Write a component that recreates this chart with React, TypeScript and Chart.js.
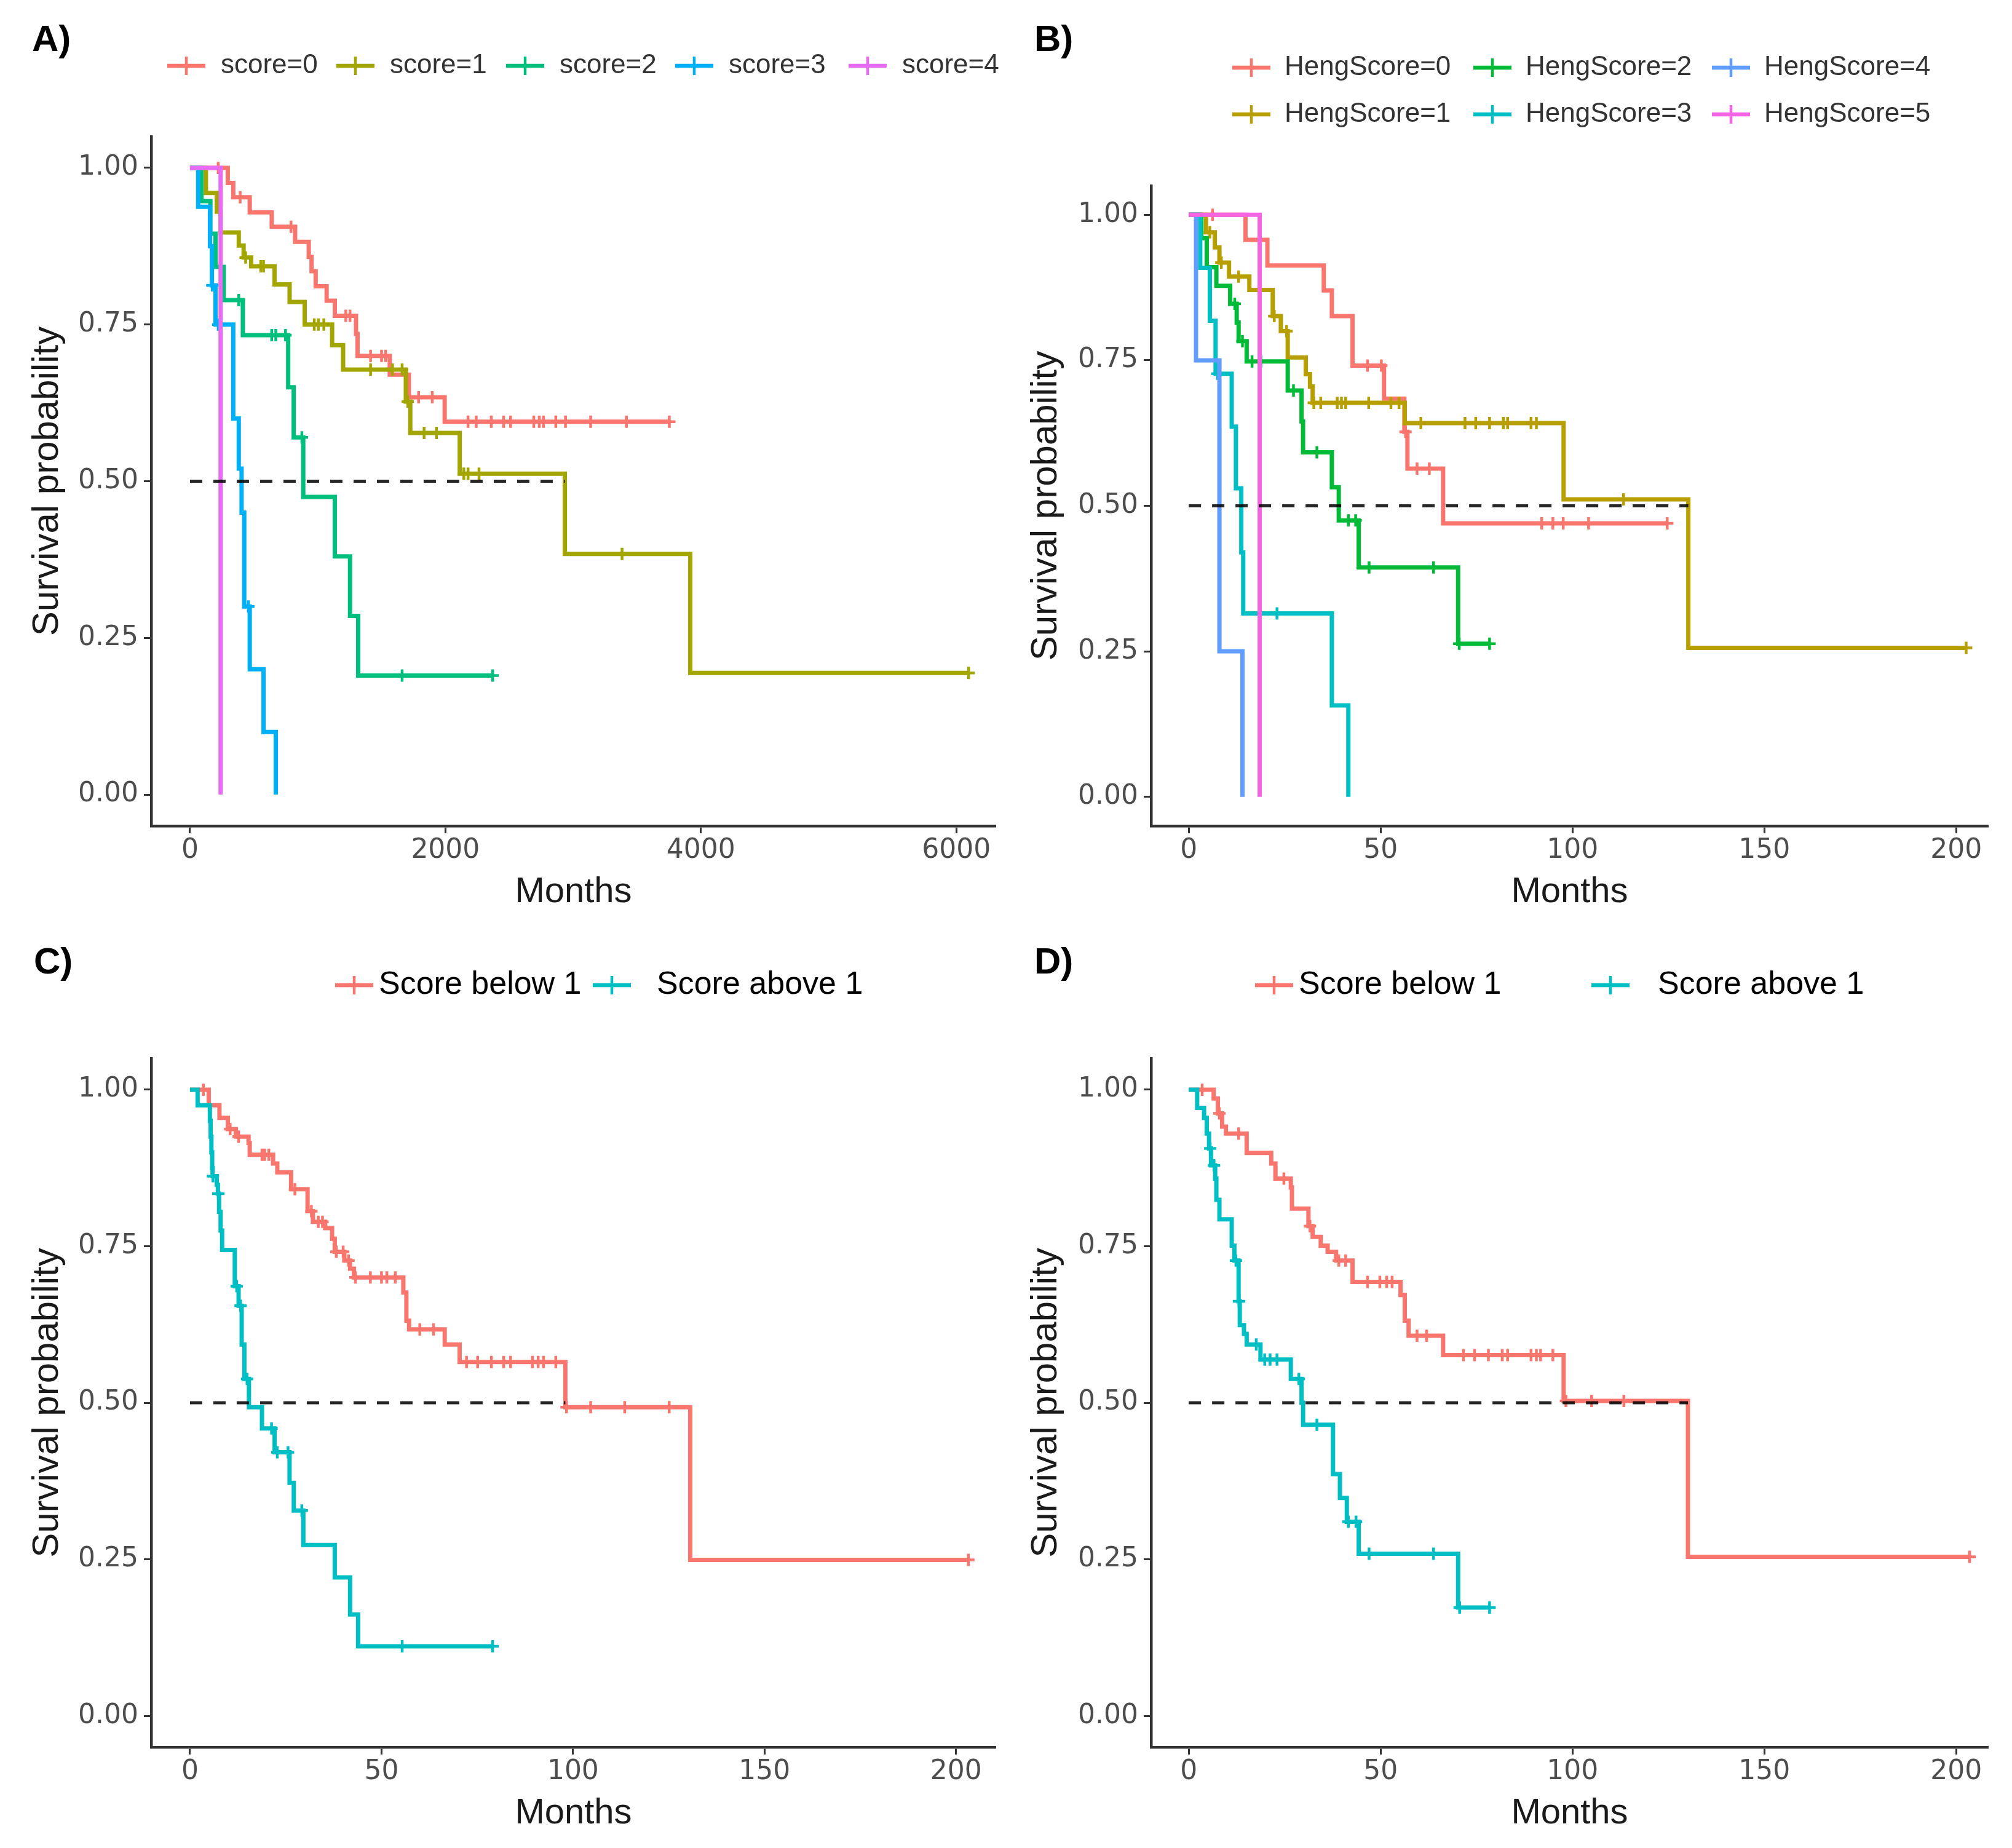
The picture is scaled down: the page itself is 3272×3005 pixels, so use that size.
import React, { useEffect, useRef } from "react";
import { Chart, registerables } from "chart.js";

Chart.register(...registerables);

const SANS = '"Liberation Sans", Arial, Helvetica, sans-serif';
const TICKFONT = '"DejaVu Sans", Verdana, sans-serif';

// ---------------- shared ticks ----------------
const Y_TICKS = [0, 0.25, 0.5, 0.75, 1];
const A_X_TICKS = [0, 2000, 4000, 6000];
const MONTH_TICKS = [0, 50, 100, 150, 200];

// ---------------- Panel A (score) ----------------
const A_labels = ["score=0", "score=1", "score=2", "score=3", "score=4"];
const A_colors = ["#F8766D", "#A3A500", "#00BF7D", "#00B0F6", "#E76BF3"];

const A_s0_time = [296, 339, 468, 640, 823, 930, 952, 984, 1070, 1134, 1300, 1312, 1564, 1714, 1994];
const A_s0_surv = [0.976, 0.953, 0.929, 0.906, 0.882, 0.858, 0.835, 0.811, 0.788, 0.764, 0.735, 0.7, 0.67, 0.634, 0.595];
const A_s0_cens = [221, 393, 791, 1220, 1253, 1414, 1500, 1532, 1790, 1897, 2177, 2241, 2359, 2456, 2510, 2692, 2735, 2768, 2864, 2940, 3137, 3417, 3753];

const A_s1_time = [125, 210, 240, 382, 420, 479, 662, 780, 898, 1113, 1199, 1690, 1725, 2112, 2935, 3917];
const A_s1_surv = [0.96, 0.93, 0.897, 0.876, 0.857, 0.843, 0.814, 0.786, 0.75, 0.717, 0.678, 0.627, 0.577, 0.512, 0.384, 0.194];
const A_s1_cens = [436, 554, 576, 973, 1005, 1048, 1414, 1586, 1661, 1705, 1833, 1930, 2144, 2177, 2263, 3383, 6096];

const A_s2_time = [90, 160, 200, 264, 414, 769, 812, 887, 1134, 1253, 1317];
const A_s2_surv = [0.947, 0.895, 0.842, 0.789, 0.733, 0.65, 0.57, 0.475, 0.38, 0.285, 0.19];
const A_s2_cens = [382, 640, 672, 748, 876, 1661, 2370];

const A_s3_time = [64, 157, 172, 200, 339, 382, 404, 425, 468, 576, 672];
const A_s3_surv = [0.938, 0.875, 0.8125, 0.75, 0.6, 0.52, 0.45, 0.3, 0.2, 0.1, 0];
const A_s3_cens = [175, 221, 457];

const A_s4_time = [240];
const A_s4_surv = [0];
const A_s4_cens: number[] = [];

// ---------------- Panel B (HengScore) ----------------
const B_labels = ["HengScore=0", "HengScore=1", "HengScore=2", "HengScore=3", "HengScore=4", "HengScore=5"];
const B_colors = ["#F8766D", "#B79F00", "#00BA38", "#00BFC4", "#619CFF", "#F564E3"];

const B_h0_time = [14.8, 20.5, 35.2, 37.3, 42.7, 50.9, 56.2, 57.0, 66.3];
const B_h0_surv = [0.957, 0.913, 0.87, 0.826, 0.741, 0.684, 0.627, 0.564, 0.47];
const B_h0_cens = [6.2, 46.6, 50.2, 56.5, 59.5, 62.7, 92.0, 94.9, 97.6, 104.2, 124.7];

const B_h1_time = [4.5, 6.8, 8.0, 10.5, 15.8, 21.9, 24.0, 25.8, 30.5, 31.6, 32.3, 56.3, 97.7, 130.2];
const B_h1_surv = [0.97, 0.944, 0.918, 0.894, 0.871, 0.826, 0.8, 0.755, 0.726, 0.705, 0.677, 0.642, 0.511, 0.256];
const B_h1_cens = [5.5, 8.5, 13.0, 22.3, 25.5, 32.6, 34.4, 38.7, 39.8, 40.9, 46.9, 52.7, 54.8, 60.5, 72.0, 74.8, 78.4, 82.0, 83.1, 89.2, 90.6, 113.3, 202.6];

const B_h2_time = [3.3, 4.7, 7.2, 10.8, 12.5, 13.0, 15.1, 25.8, 29.4, 29.8, 37.3, 39.1, 44.3, 70.2];
const B_h2_surv = [0.96, 0.91, 0.878, 0.847, 0.815, 0.783, 0.748, 0.698, 0.645, 0.592, 0.532, 0.475, 0.394, 0.263];
const B_h2_cens = [12.0, 14.0, 16.5, 18.8, 27.3, 33.4, 41.6, 43.5, 47.0, 63.8, 70.5, 78.4];

const B_h3_time = [3.0, 5.5, 7.0, 11.2, 12.3, 13.7, 14.2, 37.3, 41.6];
const B_h3_surv = [0.909, 0.818, 0.727, 0.636, 0.53, 0.42, 0.315, 0.157, 0];
const B_h3_cens = [7.5, 23.0];

const B_h4_time = [1.9, 8.0, 14.0];
const B_h4_surv = [0.75, 0.25, 0];
const B_h4_cens: number[] = [];

const B_h5_time = [18.5];
const B_h5_surv = [0];
const B_h5_cens: number[] = [];

// ---------------- Panels C / D (below / above 1) ----------------
const CD_labels = ["Score below 1", "Score above 1"];
const CD_colors = ["#F8766D", "#00BFC4"];

const C_lo_time = [4.9, 7.7, 9.9, 12.0, 15.3, 15.6, 21.7, 22.8, 26.4, 30.7, 32.1, 35.3, 37.1, 37.8, 40.3, 41.8, 42.8, 55.7, 56.5, 57.2, 66.5, 70.4, 98.0, 130.6];
const C_lo_surv = [0.975, 0.955, 0.937, 0.925, 0.915, 0.896, 0.882, 0.868, 0.841, 0.806, 0.789, 0.779, 0.762, 0.741, 0.727, 0.714, 0.7, 0.676, 0.631, 0.617, 0.593, 0.565, 0.493, 0.249];
const C_lo_cens = [3.5, 10.5, 12.7, 18.8, 19.5, 20.6, 27.4, 31.7, 33.5, 34.6, 38.2, 40.0, 41.4, 43.2, 47.1, 50.0, 51.4, 53.6, 60.0, 63.6, 72.2, 75.1, 78.7, 81.9, 83.7, 89.4, 90.9, 92.3, 95.5, 98.3, 104.6, 113.5, 125.1, 203.2];

const C_hi_time = [2.0, 5.2, 5.4, 5.6, 5.8, 5.9, 7.0, 7.3, 7.6, 8.0, 8.4, 11.7, 12.7, 13.5, 14.2, 15.4, 18.8, 22.1, 26.0, 27.1, 29.6, 37.8, 41.8, 43.9];
const C_hi_surv = [0.975, 0.95, 0.925, 0.9, 0.875, 0.862, 0.848, 0.834, 0.805, 0.775, 0.744, 0.686, 0.655, 0.593, 0.538, 0.493, 0.459, 0.421, 0.372, 0.328, 0.273, 0.221, 0.162, 0.111];
const C_hi_cens = [6.0, 7.4, 12.2, 13.2, 14.9, 21.3, 22.8, 25.6, 29.2, 55.4, 79.0];

const D_lo_time = [6.5, 7.6, 8.7, 9.7, 15.1, 21.5, 22.6, 26.6, 26.9, 31.2, 32.3, 34.4, 36.2, 38.4, 42.7, 55.2, 56.3, 57.3, 66.3, 97.7, 130.1];
const D_lo_surv = [0.986, 0.962, 0.941, 0.93, 0.899, 0.882, 0.858, 0.844, 0.81, 0.782, 0.765, 0.751, 0.741, 0.727, 0.693, 0.672, 0.631, 0.607, 0.576, 0.503, 0.254];
const D_lo_cens = [3.5, 8.0, 13.0, 24.8, 31.6, 39.1, 40.9, 46.6, 49.8, 51.6, 53.0, 59.5, 62.0, 71.6, 74.5, 78.1, 81.7, 83.1, 89.2, 90.6, 91.7, 94.9, 98.3, 105.0, 113.4, 203.5];

const D_hi_time = [2.2, 4.0, 4.7, 5.3, 5.8, 6.9, 7.2, 8.0, 11.2, 11.9, 13.0, 13.3, 14.4, 15.1, 18.7, 26.6, 29.4, 29.8, 37.6, 39.4, 41.2, 44.3, 70.2];
const D_hi_surv = [0.971, 0.955, 0.93, 0.906, 0.879, 0.858, 0.824, 0.793, 0.751, 0.727, 0.662, 0.624, 0.61, 0.593, 0.569, 0.538, 0.5, 0.465, 0.386, 0.348, 0.31, 0.259, 0.173];
const D_hi_cens = [5.6, 6.6, 12.3, 13.1, 17.6, 19.8, 21.2, 23.0, 28.7, 33.4, 41.6, 43.6, 47.0, 63.8, 70.6, 78.4];

// ---------------- helpers ----------------
type Curve = { label: string; color: string; t: number[]; s: number[]; c: number[] };

function survAt(t: number[], s: number[], x: number) {
  let v = 1;
  for (let i = 0; i < t.length; i++) if (t[i] <= x) v = s[i];
  return v;
}

function curvePoints(cv: Curve) {
  const pts: { x: number; y: number; c: boolean }[] = [{ x: 0, y: 1, c: false }];
  cv.t.forEach((x, i) => pts.push({ x, y: cv.s[i], c: false }));
  cv.c.forEach((x) => pts.push({ x, y: survAt(cv.t, cv.s, x), c: true }));
  pts.sort((a, b) => a.x - b.x || (a.c ? 1 : 0) - (b.c ? 1 : 0));
  return pts;
}

function medianTime(cv: Curve) {
  for (let i = 0; i < cv.t.length; i++) if (cv.s[i] <= 0.5) return cv.t[i];
  return null;
}

function mk(labels: string[], colors: string[], series: [number[], number[], number[]][]): Curve[] {
  return series.map(([t, s, c], i) => ({ label: labels[i], color: colors[i], t, s, c }));
}

const A_curves = mk(A_labels, A_colors, [
  [A_s0_time, A_s0_surv, A_s0_cens],
  [A_s1_time, A_s1_surv, A_s1_cens],
  [A_s2_time, A_s2_surv, A_s2_cens],
  [A_s3_time, A_s3_surv, A_s3_cens],
  [A_s4_time, A_s4_surv, A_s4_cens],
]);
const B_curves = mk(B_labels, B_colors, [
  [B_h0_time, B_h0_surv, B_h0_cens],
  [B_h1_time, B_h1_surv, B_h1_cens],
  [B_h2_time, B_h2_surv, B_h2_cens],
  [B_h3_time, B_h3_surv, B_h3_cens],
  [B_h4_time, B_h4_surv, B_h4_cens],
  [B_h5_time, B_h5_surv, B_h5_cens],
]);
const C_curves = mk(CD_labels, CD_colors, [
  [C_lo_time, C_lo_surv, C_lo_cens],
  [C_hi_time, C_hi_surv, C_hi_cens],
]);
const D_curves = mk(CD_labels, CD_colors, [
  [D_lo_time, D_lo_surv, D_lo_cens],
  [D_hi_time, D_hi_surv, D_hi_cens],
]);

type LegendItem = { kx: number; ky: number; tx: number };
type PanelCfg = {
  key: string;
  left: number; top: number; width: number; height: number;
  area: { l: number; r: number; t: number; b: number };
  xMin: number; xMax: number; xTicks: number[];
  curves: Curve[];
  label: string; labelX: number; labelY: number;
  yTitleCenter: number; xTitleCenter: number;
  legendFont: string; legendColor: string; legend: LegendItem[];
};

const PANELS: PanelCfg[] = [
  {
    key: "A", left: 0, top: 0, width: 1636, height: 1500,
    area: { l: 246, r: 1619, t: 222, b: 1343 },
    xMin: -303, xMax: 6307, xTicks: A_X_TICKS, curves: A_curves,
    label: "A)", labelX: 52, labelY: 83, yTitleCenter: 77, xTitleCenter: 1451,
    legendFont: `44px ${SANS}`, legendColor: "#333",
    legend: [
      { kx: 303, ky: 107, tx: 359 },
      { kx: 578, ky: 107, tx: 634 },
      { kx: 854, ky: 107, tx: 910 },
      { kx: 1129, ky: 107, tx: 1185 },
      { kx: 1411, ky: 107, tx: 1467 },
    ],
  },
  {
    key: "B", left: 1636, top: 0, width: 1636, height: 1500,
    area: { l: 236, r: 1597, t: 302, b: 1343 },
    xMin: -9.8, xMax: 208.3, xTicks: MONTH_TICKS, curves: B_curves,
    label: "B)", labelX: 46, labelY: 83, yTitleCenter: 65, xTitleCenter: 1451,
    legendFont: `44px ${SANS}`, legendColor: "#333",
    legend: [
      { kx: 399, ky: 110, tx: 453 },
      { kx: 399, ky: 186, tx: 453 },
      { kx: 791, ky: 110, tx: 845 },
      { kx: 791, ky: 186, tx: 845 },
      { kx: 1179, ky: 110, tx: 1233 },
      { kx: 1179, ky: 186, tx: 1233 },
    ],
  },
  {
    key: "C", left: 0, top: 1500, width: 1636, height: 1505,
    area: { l: 246, r: 1619, t: 221, b: 1341 },
    xMin: -10.1, xMax: 210.3, xTicks: MONTH_TICKS, curves: C_curves,
    label: "C)", labelX: 55, labelY: 83, yTitleCenter: 77, xTitleCenter: 1449,
    legendFont: `52px ${SANS}`, legendColor: "#000",
    legend: [
      { kx: 576, ky: 102, tx: 616 },
      { kx: 995, ky: 102, tx: 1068 },
    ],
  },
  {
    key: "D", left: 1636, top: 1500, width: 1636, height: 1505,
    area: { l: 236, r: 1597, t: 221, b: 1341 },
    xMin: -9.8, xMax: 208.3, xTicks: MONTH_TICKS, curves: D_curves,
    label: "D)", labelX: 46, labelY: 83, yTitleCenter: 65, xTitleCenter: 1449,
    legendFont: `52px ${SANS}`, legendColor: "#000",
    legend: [
      { kx: 436, ky: 102, tx: 476 },
      { kx: 983, ky: 102, tx: 1060 },
    ],
  },
];

function makeDecor(cfg: PanelCfg) {
  return {
    id: "panelDecor" + cfg.key,
    afterDraw(chart: any) {
      const ctx = chart.ctx as CanvasRenderingContext2D;
      ctx.save();
      // panel tag
      ctx.fillStyle = "#000";
      ctx.font = `bold 60px ${SANS}`;
      ctx.textAlign = "left";
      ctx.textBaseline = "alphabetic";
      ctx.fillText(cfg.label, cfg.labelX, cfg.labelY);
      // legend
      cfg.curves.forEach((cv, i) => {
        const it = cfg.legend[i];
        ctx.strokeStyle = cv.color;
        ctx.lineCap = "butt";
        ctx.lineWidth = 6.5;
        ctx.beginPath();
        ctx.moveTo(it.kx - 31, it.ky);
        ctx.lineTo(it.kx + 31, it.ky);
        ctx.stroke();
        ctx.lineWidth = 4.5;
        ctx.beginPath();
        ctx.moveTo(it.kx, it.ky - 15);
        ctx.lineTo(it.kx, it.ky + 15);
        ctx.moveTo(it.kx - 15, it.ky);
        ctx.lineTo(it.kx + 15, it.ky);
        ctx.stroke();
        ctx.fillStyle = cfg.legendColor;
        ctx.font = cfg.legendFont;
        ctx.textBaseline = "middle";
        ctx.fillText(cv.label, it.tx, it.ky);
      });
      ctx.restore();
    },
  };
}

function buildConfig(cfg: PanelCfg): any {
  const n = cfg.curves.length;
  const meds = cfg.curves.map(medianTime).filter((v) => v !== null) as number[];
  const med = Math.max(...meds);
  const datasets: any[] = cfg.curves.map((cv, i) => ({
    label: cv.label,
    data: curvePoints(cv),
    order: n - i,
    borderColor: cv.color,
    backgroundColor: cv.color,
    borderWidth: 7,
    stepped: "before",
    fill: false,
    tension: 0,
    pointStyle: "cross",
    pointRadius: (ctx: any) => (ctx.raw && ctx.raw.c ? 10 : 0),
    pointHoverRadius: 0,
    pointHitRadius: 0,
    pointBorderWidth: 4.5,
    pointBorderColor: cv.color,
  }));
  datasets.push({
    label: "median",
    data: [
      { x: 0, y: 0.5 },
      { x: med, y: 0.5 },
    ],
    order: 0,
    borderColor: "rgba(0,0,0,0.85)",
    borderWidth: 5,
    borderDash: [20, 18],
    pointRadius: 0,
    fill: false,
  });

  const gridOpts = {
    display: true,
    drawOnChartArea: false,
    drawTicks: true,
    tickLength: 12,
    tickWidth: 3,
    tickColor: "#333",
  };
  const borderOpts = { display: true, color: "#333", width: 4.5 };
  const titleLH = 58 * 1.2;
  const yTitleLH = 60 * 1.2;

  return {
    type: "line",
    data: { datasets },
    plugins: [makeDecor(cfg)],
    options: {
      responsive: false,
      animation: false,
      devicePixelRatio: 1,
      events: [],
      layout: {
        padding: { left: 0, right: cfg.width - cfg.area.r, top: cfg.area.t, bottom: 0 },
      },
      plugins: {
        legend: { display: false },
        tooltip: { enabled: false },
        title: { display: false },
      },
      scales: {
        x: {
          type: "linear",
          min: cfg.xMin,
          max: cfg.xMax,
          afterFit: (s: any) => {
            s.height = cfg.height - cfg.area.b;
          },
          afterBuildTicks: (s: any) => {
            s.ticks = cfg.xTicks.map((v) => ({ value: v }));
          },
          grid: gridOpts,
          border: borderOpts,
          ticks: {
            font: { family: TICKFONT, size: 44 },
            color: "#4D4D4D",
            padding: 2,
            maxRotation: 0,
            autoSkip: false,
            callback: (v: any) => String(v),
          },
          title: {
            display: true,
            text: "Months",
            font: { family: SANS, size: 58 },
            color: "#1a1a1a",
            padding: { top: 0, bottom: cfg.height - cfg.xTitleCenter - titleLH / 2 },
          },
        },
        y: {
          type: "linear",
          min: -0.05,
          max: 1.05,
          afterFit: (s: any) => {
            s.width = cfg.area.l;
          },
          afterBuildTicks: (s: any) => {
            s.ticks = Y_TICKS.map((v) => ({ value: v }));
          },
          grid: gridOpts,
          border: borderOpts,
          ticks: {
            font: { family: TICKFONT, size: 44 },
            color: "#4D4D4D",
            padding: 9,
            autoSkip: false,
            callback: (v: any) => Number(v).toFixed(2),
          },
          title: {
            display: true,
            text: "Survival probability",
            font: { family: SANS, size: 60 },
            color: "#1a1a1a",
            padding: { top: cfg.yTitleCenter - yTitleLH / 2, bottom: 0 },
          },
        },
      },
    },
  };
}

function Panel({ cfg }: { cfg: PanelCfg }) {
  const ref = useRef<HTMLCanvasElement | null>(null);
  useEffect(() => {
    if (!ref.current) return;
    const chart = new Chart(ref.current, buildConfig(cfg));
    return () => chart.destroy();
  }, [cfg]);
  return (
    <canvas
      ref={ref}
      width={cfg.width}
      height={cfg.height}
      style={{
        position: "absolute",
        left: cfg.left,
        top: cfg.top,
        width: cfg.width,
        height: cfg.height,
        display: "block",
      }}
    />
  );
}

export default function App() {
  return (
    <div
      style={{
        position: "absolute",
        left: 0,
        top: 0,
        width: 3272,
        height: 3005,
        background: "#fff",
        overflow: "hidden",
      }}
    >
      {PANELS.map((p) => (
        <Panel key={p.key} cfg={p} />
      ))}
    </div>
  );
}
